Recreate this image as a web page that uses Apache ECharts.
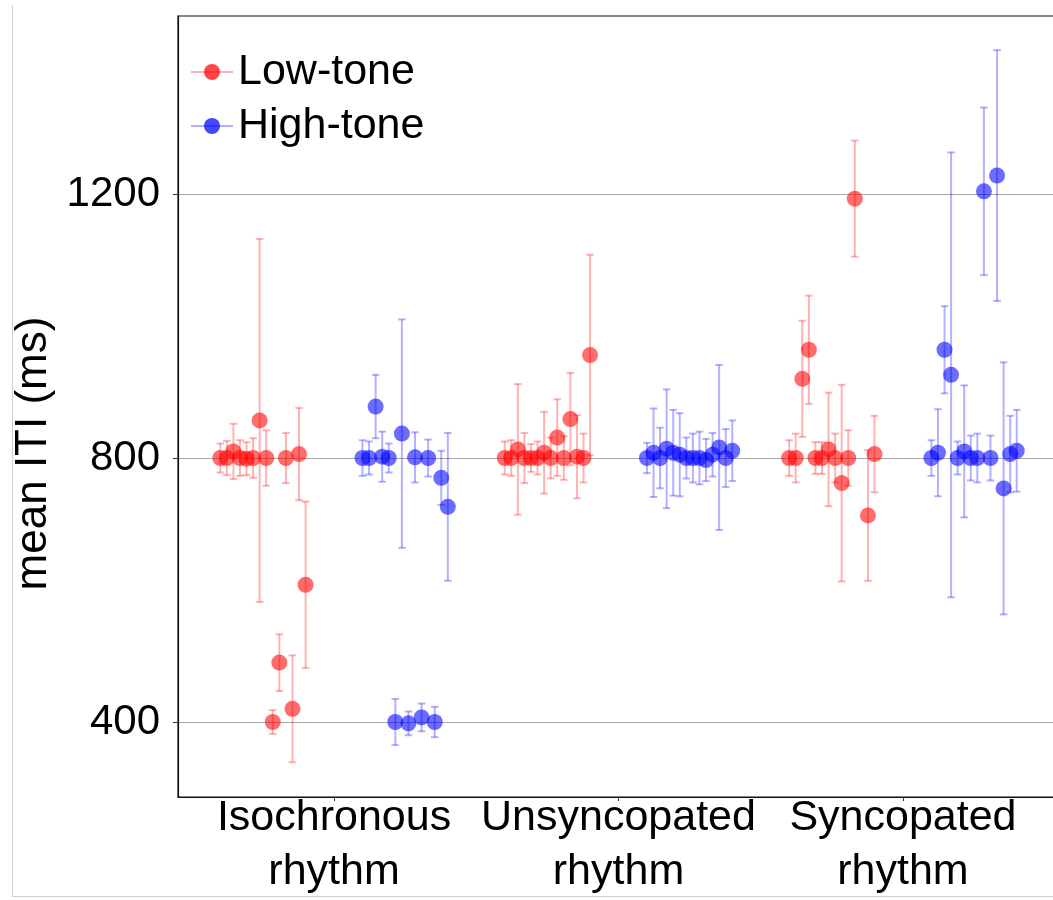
<!DOCTYPE html>
<html>
<head>
<meta charset="utf-8">
<script src="https://cdn.jsdelivr.net/npm/echarts@6/dist/echarts.min.js"></script>
<style>
html,body{margin:0;padding:0;background:#fff;}
#chart{width:1053px;height:900px;}
</style>
</head>
<body>
<div id="chart"></div>
<script>
// ---------- data ----------
const categories = ['Isochronous\nrhythm', 'Unsyncopated\nrhythm', 'Syncopated\nrhythm'];
const seriesNames = ['Low-tone', 'High-tone'];
const yTicks = [400, 800, 1200];

// mean ITI per subject (14 subjects), one array per rhythm condition
const lowIso   = [800, 800, 810, 800, 799, 800, 857, 800, 400, 490, 800, 420, 806, 608];
const lowIsoE  = [22, 26, 42, 27, 25, 30, 275, 42, 18, 43, 38, 81, 70, 126];
const lowUns   = [800, 800, 813, 800, 800, 800, 808, 800, 831, 800, 859, 802, 800, 956];
const lowUnsE  = [25, 27, 99, 38, 21, 25, 62, 31, 58, 33, 70, 63, 37, 152];
const lowSyn   = [800, 800, 920, 964, 800, 800, 813, 800, 762, 800, 1193, null, 713, 806];
const lowSynE  = [27, 37, 88, 82, 24, 24, 86, 37, 149, 42, 88, null, 99, 58];

const highIso  = [800, 800, 878, 802, 800, 400, 837, 398, 801, 407, 800, 400, 770, 726];
const highIsoE = [27, 25, 48, 38, 22, 35, 173, 18, 38, 21, 28, 23, 41, 112];
const highUns  = [800, 808, 800, 814, 808, 805, 800, 800, 800, 797, 805, 816, 800, 811];
const highUnsE = [23, 67, 46, 90, 65, 63, 31, 37, 40, 32, 33, 125, 44, 46];
const highSyn  = [800, 808, 964, 926, 800, 810, 800, 800, 1204, 800, 1228, 754, 806, 811];
const highSynE = [27, 66, 66, 337, 25, 100, 34, 37, 127, 34, 190, 191, 58, 62];

// ---------- build ----------
const FONT = '"Liberation Sans", Arial, Helvetica, sans-serif';
const RED_PT = 'rgba(255,0,0,0.72)', RED_BAR = 'rgba(255,0,0,0.3)';
const BLUE_PT = 'rgba(0,0,255,0.72)', BLUE_BAR = 'rgba(0,0,255,0.3)';

function build(groups, startOffset) {
  const pts = [], bars = [];
  groups.forEach(([means, errs], g) => {
    const n = means.length;
    means.forEach((m, i) => {
      if (m == null) return;
      const x = g + 1 + startOffset + i * 0.3 / (n - 1);
      pts.push([x, m]);
      bars.push([x, m - errs[i], m + errs[i]]);
    });
  });
  return {pts, bars};
}
const low = build([[lowIso, lowIsoE], [lowUns, lowUnsE], [lowSyn, lowSynE]], -0.4);
const high = build([[highIso, highIsoE], [highUns, highUnsE], [highSyn, highSynE]], 0.1);

function errRender(color) {
  return function (params, api) {
    const x = api.value(0);
    const p1 = api.coord([x, api.value(2)]);
    const p2 = api.coord([x, api.value(1)]);
    const w = 3.8;
    const st = {stroke: color, lineWidth: 2, fill: null};
    return {type: 'group', children: [
      {type: 'line', shape: {x1: p1[0], y1: p1[1], x2: p2[0], y2: p2[1]}, style: st},
      {type: 'line', shape: {x1: p1[0] - w, y1: p1[1], x2: p1[0] + w, y2: p1[1]}, style: st},
      {type: 'line', shape: {x1: p2[0] - w, y1: p2[1], x2: p2[0] + w, y2: p2[1]}, style: st}
    ]};
  };
}

const chart = echarts.init(document.getElementById('chart'), null, {renderer: 'canvas'});
chart.setOption({
  animation: false,
  backgroundColor: '#fff',
  textStyle: {fontFamily: FONT},
  graphic: [
    {type: 'line', shape: {x1: 12.5, y1: 5, x2: 12.5, y2: 897}, style: {stroke: '#d0d0d0', lineWidth: 1}, z: 0},
    {type: 'line', shape: {x1: 12.5, y1: 896.5, x2: 1053, y2: 896.5}, style: {stroke: '#d0d0d0', lineWidth: 1}, z: 0}
  ],
  grid: {left: 178, top: 16, width: 881, height: 781, containLabel: false, outerBoundsMode: 'none',
         show: true, borderColor: '#111', borderWidth: 1.2, backgroundColor: 'transparent'},
  legend: {
    orient: 'vertical', left: 190, top: 45, padding: 0, itemGap: 0,
    itemWidth: 42, itemHeight: 20,
    data: seriesNames,
    textStyle: {fontSize: 43, color: '#000', fontFamily: FONT, lineHeight: 54}
  },
  xAxis: {
    type: 'value', min: 0.4514, max: 3.5486,
    axisLine: {show: true, lineStyle: {color: '#111', width: 1.2}},
    axisTick: {show: true, customValues: [1, 2, 3], length: 4, lineStyle: {color: '#333'}},
    axisLabel: {
      customValues: [1, 2, 3],
      formatter: v => categories[Math.round(v) - 1] || '',
      fontSize: 43, lineHeight: 54, color: '#000', margin: -6, fontFamily: FONT
    },
    splitLine: {show: false}
  },
  yAxis: {
    type: 'value', min: 286.4, max: 1469.7,
    name: 'mean ITI (ms)', nameLocation: 'middle', nameGap: 94,
    nameTextStyle: {fontSize: 44, color: '#000', fontFamily: FONT, padding: [0, 94, 0, 0]},
    axisLine: {show: true, lineStyle: {color: '#111', width: 1.2}},
    axisTick: {show: true, customValues: yTicks, length: 5, lineStyle: {color: '#333'}},
    axisLabel: {customValues: yTicks, formatter: v => String(v), fontSize: 42, color: '#000', margin: 18, fontFamily: FONT},
    splitLine: {show: true, lineStyle: {color: '#a8a8a8', width: 1}}
  },
  series: [
    {name: 'Low-tone', type: 'line', data: [], symbol: 'circle', symbolSize: 16,
     itemStyle: {color: RED_PT}, lineStyle: {color: RED_BAR, width: 2}},
    {name: 'High-tone', type: 'line', data: [], symbol: 'circle', symbolSize: 16,
     itemStyle: {color: BLUE_PT}, lineStyle: {color: BLUE_BAR, width: 2}},
    {name: 'Low-tone', type: 'custom', data: low.bars, renderItem: errRender(RED_BAR), z: 2, silent: true},
    {name: 'Low-tone', type: 'scatter', data: low.pts, symbolSize: 16, itemStyle: {color: RED_PT}, z: 3},
    {name: 'High-tone', type: 'custom', data: high.bars, renderItem: errRender(BLUE_BAR), z: 2, silent: true},
    {name: 'High-tone', type: 'scatter', data: high.pts, symbolSize: 16, itemStyle: {color: BLUE_PT}, z: 3}
  ]
});
</script>
</body>
</html>
